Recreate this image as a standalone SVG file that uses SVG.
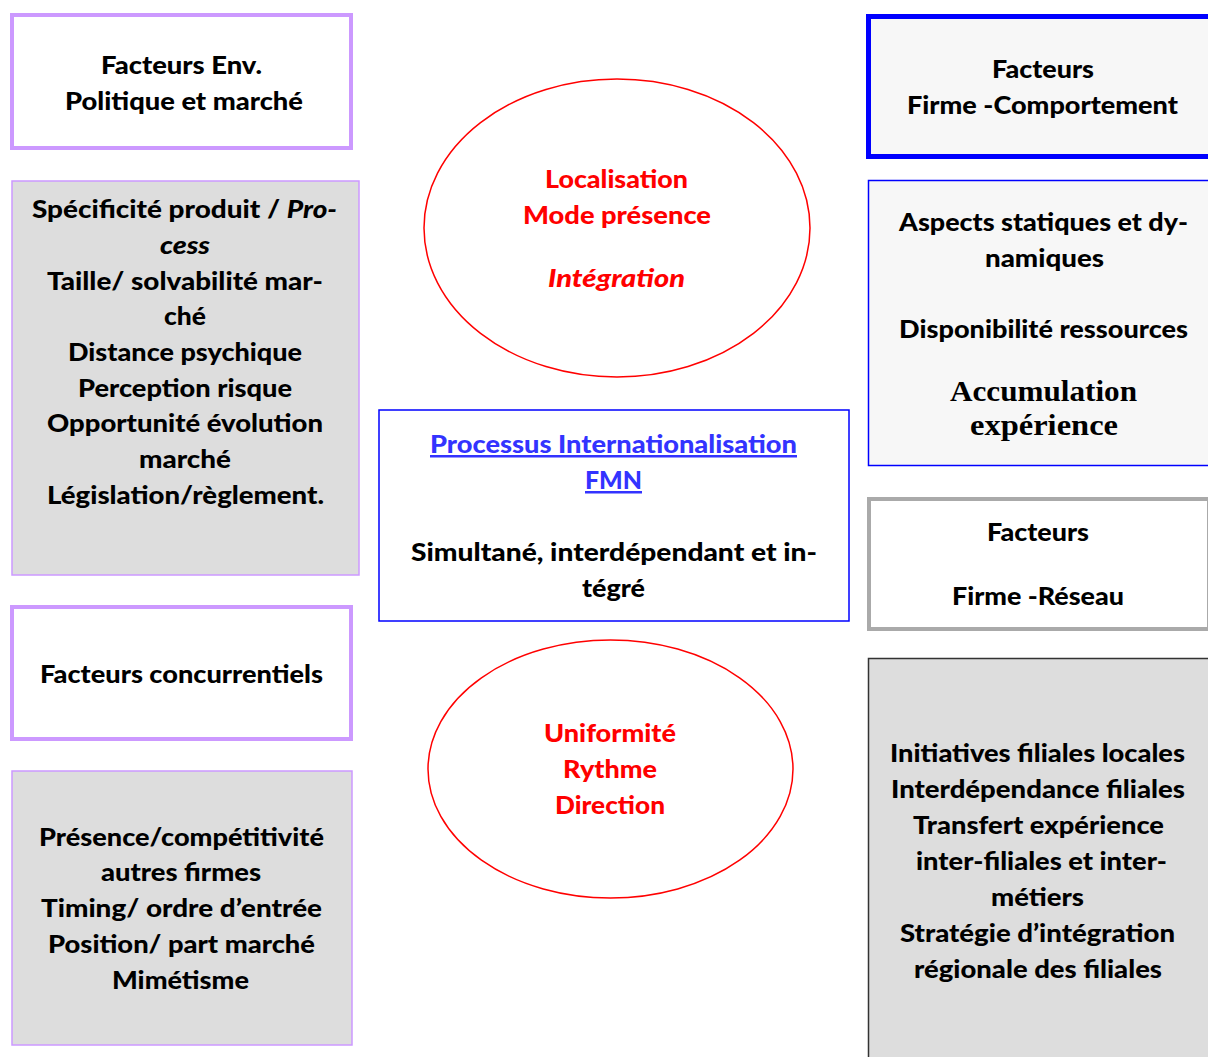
<svg xmlns="http://www.w3.org/2000/svg" width="1208" height="1057" viewBox="0 0 1208 1057">
  <style>
    .t { font-family: Lato, "Open Sans", "Liberation Sans", sans-serif; font-weight: 900; font-size: 25px; text-anchor: middle; fill: #000; }
    .red { fill: #FF0000; }
    .link { fill: #3333FF; text-decoration: underline; }
    .serif { font-family: "Liberation Serif", "DejaVu Serif", serif; font-weight: bold; font-size: 30px; }
    .it { font-style: italic; }
    .purpleThick { fill: #FFFFFF; stroke: #CC99FF; stroke-width: 4; }
    .purpleThin { fill: #DDDDDD; stroke: #CC99FF; stroke-width: 1.5; }
    .oval { fill: #FFFFFF; stroke: #FF0000; stroke-width: 1.5; }
  </style>

  <rect width="1208" height="1057" fill="#FFFFFF"/>

  <!-- left column -->
  <g id="env-title">
    <rect class="purpleThick" x="12" y="15" width="339" height="133"/>
    <text class="t" x="181.5" y="74" textLength="161" lengthAdjust="spacingAndGlyphs">Facteurs Env.</text>
    <text class="t" x="184" y="110" textLength="238" lengthAdjust="spacingAndGlyphs">Politique et marché</text>
  </g>

  <g id="env-details">
    <rect class="purpleThin" x="12" y="181" width="347" height="394"/>
    <text class="t" x="184.5" y="218" textLength="305" lengthAdjust="spacingAndGlyphs">Spécificité produit  / <tspan class="it">Pro-</tspan></text>
    <text class="t it" x="185" y="254" textLength="50" lengthAdjust="spacingAndGlyphs">cess</text>
    <text class="t" x="185" y="290" textLength="276" lengthAdjust="spacingAndGlyphs">Taille/ solvabilité mar-</text>
    <text class="t" x="185" y="325" textLength="42" lengthAdjust="spacingAndGlyphs">ché</text>
    <text class="t" x="185" y="361" textLength="234" lengthAdjust="spacingAndGlyphs">Distance psychique</text>
    <text class="t" x="185" y="397" textLength="214" lengthAdjust="spacingAndGlyphs">Perception risque</text>
    <text class="t" x="185" y="432" textLength="276" lengthAdjust="spacingAndGlyphs">Opportunité évolution</text>
    <text class="t" x="185" y="468" textLength="92" lengthAdjust="spacingAndGlyphs">marché</text>
    <text class="t" x="185.5" y="504" textLength="277" lengthAdjust="spacingAndGlyphs">Législation/règlement.</text>
  </g>

  <g id="competition-title">
    <rect class="purpleThick" x="12" y="607" width="339" height="132"/>
    <text class="t" x="181.5" y="683" textLength="283" lengthAdjust="spacingAndGlyphs">Facteurs concurrentiels</text>
  </g>

  <g id="competition-details">
    <rect class="purpleThin" x="12" y="771" width="340" height="274"/>
    <text class="t" x="181.5" y="846" textLength="285" lengthAdjust="spacingAndGlyphs">Présence/compétitivité</text>
    <text class="t" x="181" y="881" textLength="160" lengthAdjust="spacingAndGlyphs">autres firmes</text>
    <text class="t" x="181.5" y="917" textLength="281" lengthAdjust="spacingAndGlyphs">Timing/ ordre d’entrée</text>
    <text class="t" x="181.5" y="953" textLength="267" lengthAdjust="spacingAndGlyphs">Position/ part marché</text>
    <text class="t" x="180.5" y="989" textLength="137" lengthAdjust="spacingAndGlyphs">Mimétisme</text>
  </g>

  <!-- centre column -->
  <g id="localisation">
    <ellipse class="oval" cx="617" cy="228" rx="193" ry="149"/>
    <text class="t red" x="616.5" y="188" textLength="143" lengthAdjust="spacingAndGlyphs">Localisation</text>
    <text class="t red" x="617" y="224" textLength="188" lengthAdjust="spacingAndGlyphs">Mode présence</text>
    <text class="t red it" x="616.5" y="287" textLength="137" lengthAdjust="spacingAndGlyphs">Intégration</text>
  </g>

  <g id="processus">
    <rect x="379" y="410" width="470" height="211" fill="#FFFFFF" stroke="#0000FF" stroke-width="1.5"/>
    <text class="t link" x="613.5" y="453" textLength="367" lengthAdjust="spacingAndGlyphs">Processus Internationalisation</text>
    <text class="t link" x="613.5" y="489" textLength="57" lengthAdjust="spacingAndGlyphs">FMN</text>
    <text class="t" x="614" y="561" textLength="406" lengthAdjust="spacingAndGlyphs">Simultané, interdépendant et in-</text>
    <text class="t" x="613.5" y="597" textLength="63" lengthAdjust="spacingAndGlyphs">tégré</text>
  </g>

  <g id="uniformite">
    <ellipse class="oval" cx="610.5" cy="769" rx="182.5" ry="129"/>
    <text class="t red" x="610" y="742" textLength="132" lengthAdjust="spacingAndGlyphs">Uniformité</text>
    <text class="t red" x="610" y="778" textLength="94" lengthAdjust="spacingAndGlyphs">Rythme</text>
    <text class="t red" x="610" y="814" textLength="110" lengthAdjust="spacingAndGlyphs">Direction</text>
  </g>

  <!-- right column -->
  <g id="firm-behaviour-title">
    <rect x="868.5" y="16.5" width="345" height="140" fill="#F7F7F7" stroke="#0000FF" stroke-width="5"/>
    <text class="t" x="1043" y="78" textLength="102" lengthAdjust="spacingAndGlyphs">Facteurs</text>
    <text class="t" x="1042.5" y="114" textLength="271" lengthAdjust="spacingAndGlyphs">Firme -Comportement</text>
  </g>

  <g id="firm-behaviour-details">
    <rect x="868.5" y="180.5" width="345" height="285" fill="#F7F7F7" stroke="#0000FF" stroke-width="1.5"/>
    <text class="t" x="1043.5" y="231" textLength="289" lengthAdjust="spacingAndGlyphs">Aspects statiques et dy-</text>
    <text class="t" x="1044.5" y="267" textLength="119" lengthAdjust="spacingAndGlyphs">namiques</text>
    <text class="t" x="1043.5" y="338" textLength="289" lengthAdjust="spacingAndGlyphs">Disponibilité ressources</text>
    <text class="t serif" x="1043.5" y="401" textLength="187" lengthAdjust="spacingAndGlyphs">Accumulation</text>
    <text class="t serif" x="1044" y="435" textLength="148" lengthAdjust="spacingAndGlyphs">expérience</text>
  </g>

  <g id="network-title">
    <rect x="869" y="499" width="340" height="130" fill="#FFFFFF" stroke="#AAAAAA" stroke-width="4"/>
    <text class="t" x="1038" y="541" textLength="102" lengthAdjust="spacingAndGlyphs">Facteurs</text>
    <text class="t" x="1038" y="605" textLength="172" lengthAdjust="spacingAndGlyphs">Firme -Réseau</text>
  </g>

  <g id="network-details">
    <rect x="868.5" y="658.5" width="345" height="410" fill="#DDDDDD" stroke="#333333" stroke-width="1.5"/>
    <text class="t" x="1037.5" y="762" textLength="295" lengthAdjust="spacingAndGlyphs">Initiatives filiales locales</text>
    <text class="t" x="1038" y="798" textLength="294" lengthAdjust="spacingAndGlyphs">Interdépendance filiales</text>
    <text class="t" x="1038.5" y="834" textLength="251" lengthAdjust="spacingAndGlyphs">Transfert expérience</text>
    <text class="t" x="1041.5" y="870" textLength="251" lengthAdjust="spacingAndGlyphs">inter-filiales et inter-</text>
    <text class="t" x="1037.5" y="906" textLength="93" lengthAdjust="spacingAndGlyphs">métiers</text>
    <text class="t" x="1037.5" y="942" textLength="275" lengthAdjust="spacingAndGlyphs">Stratégie d’intégration</text>
    <text class="t" x="1038" y="978" textLength="248" lengthAdjust="spacingAndGlyphs">régionale des filiales</text>
  </g>
</svg>
